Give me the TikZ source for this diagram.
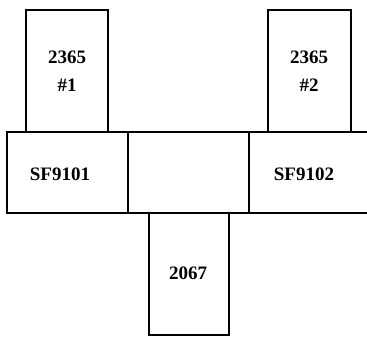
\documentclass[tikz,border=0pt]{standalone}
\usepackage{fontspec}
\setmainfont{Liberation Serif}
\begin{document}
\begin{tikzpicture}[x=1pt,y=-1pt,
  box/.style={draw=black,line width=1.6pt},
  lbl/.style={font=\fontsize{19}{28}\selectfont\bfseries,align=center,inner sep=0pt}]
\useasboundingbox (0,0) rectangle (367,337);
\clip (0,0) rectangle (367,337);
\draw[box] (26,10) rectangle (108,132);
\draw[box] (268,10) rectangle (351,132);
\draw[box] (7,132) rectangle (128,213);
\draw[box] (128,132) rectangle (249,213);
\draw[box] (249,132) rectangle (380,213);
\draw[box] (149,213) rectangle (229,335);
\node[lbl] (a1) at (67,71) {2365\\\#1};
\node[lbl] (a2) at (309,71) {2365\\\#2};
\node[lbl] (s1) at (60,174) {SF9101};
\node[lbl] (s2) at (304,174) {SF9102};
\node[lbl] (b) at (188,273) {2067};
\end{tikzpicture}
\end{document}
